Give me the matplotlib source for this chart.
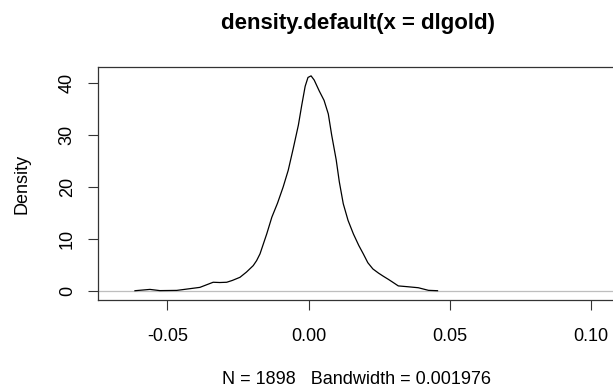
import matplotlib
matplotlib.use("Agg")
import matplotlib.pyplot as plt

# density estimate of dlgold
dens_x = [-0.0615, -0.0562, -0.0527, -0.0467, -0.0385, -0.0338, -0.0314, -0.0290,
          -0.0270, -0.0243, -0.0220, -0.0196, -0.0184, -0.0172, -0.0148, -0.0130,
          -0.0110, -0.0090, -0.0072, -0.0054, -0.0036, -0.0024, -0.0012, -0.0002,
          0.0009, 0.0020, 0.0038, 0.0055, 0.0070, 0.0082, 0.0098, 0.0109, 0.0123,
          0.0140, 0.0159, 0.0178, 0.0194, 0.0210, 0.0228, 0.0248, 0.0265, 0.0283,
          0.0300, 0.0318, 0.0350, 0.0389, 0.0425, 0.0457]
dens_y = [0.13, 0.38, 0.15, 0.19, 0.77, 1.75, 1.70, 1.75,
          2.10, 2.70, 3.70, 4.94, 5.90, 7.19, 11.04, 14.23,
          16.90, 20.00, 23.21, 27.44, 31.87, 35.71, 39.3, 41.0,
          41.3, 40.5, 38.4, 36.6, 34.0, 29.94, 25.2, 21.0, 16.8,
          13.6, 11.0, 8.8, 7.19, 5.5, 4.3, 3.5, 2.9, 2.30,
          1.70, 1.05, 0.90, 0.70, 0.20, 0.13]

x_ticks = [-0.05, 0.00, 0.05, 0.10]
x_labels = ["-0.05", "0.00", "0.05", "0.10"]
y_ticks = [0, 10, 20, 30, 40]

title = "density.default(x = dlgold)"
sub = "N = 1898   Bandwidth = 0.001976"

plt.rcParams['font.family'] = ['Liberation Sans', 'DejaVu Sans']

fig = plt.figure(figsize=(6.13, 3.92), dpi=100)
ax = fig.add_axes([98 / 613, 1 - 300 / 392, 521 / 613, 233 / 392])

ax.axhline(0, color="#bebebe", lw=0.9, zorder=1)
ax.plot(dens_x, dens_y, color="black", lw=0.9, zorder=2)

ax.set_xlim(-0.0746, 0.110)
ax.set_ylim(-1.65, 43.0)

ax.set_xticks(x_ticks)
ax.set_xticklabels(x_labels)
ax.set_yticks(y_ticks)
ax.set_yticklabels([str(v) for v in y_ticks], rotation=90, va="center")

ax.tick_params(axis="both", direction="out", length=7, width=0.8,
               color="#333333", labelsize=13, pad=9)
ax.tick_params(axis="x", pad=13)
for s in ax.spines.values():
    s.set_color("#333333")
    s.set_linewidth(0.9)

ax.set_ylabel("Density", fontsize=13, labelpad=20)
fig.text(358 / 613, 1 - 23 / 392, title, ha="center", va="center",
         fontsize=16, fontweight="bold")
fig.text(357 / 613, 1 - 380 / 392, sub, ha="center", va="center", fontsize=13)

fig.savefig("out.png", dpi=100)
